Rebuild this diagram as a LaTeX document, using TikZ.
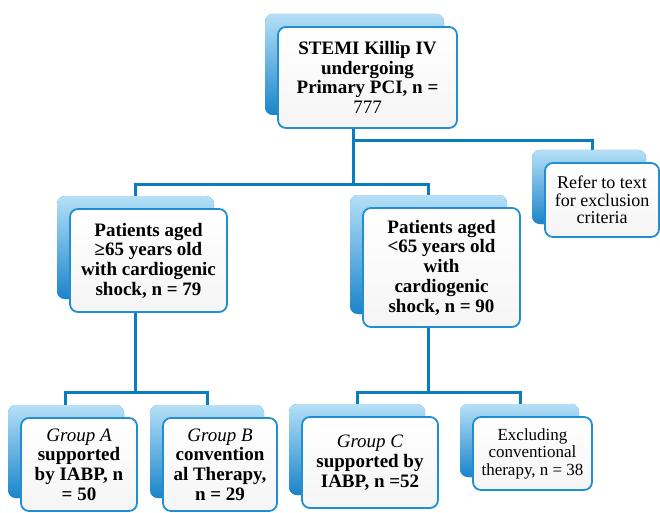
\documentclass[tikz,border=0pt]{standalone}
\usepackage{fontspec}
\setmainfont{Liberation Serif}
\usetikzlibrary{calc}
\usetikzlibrary{shadows,backgrounds}
\definecolor{backlight}{HTML}{B5E0F7}
\definecolor{backdark}{HTML}{1A84CA}
\definecolor{rim}{HTML}{1F8FD2}
\definecolor{wire}{HTML}{0B7DBE}

\begin{document}
\begin{tikzpicture}[x=1pt,y=-1pt,every node/.style={rectangle,rounded corners=8pt,draw=rim,line width=1.8pt,top color=white,bottom color=black!4,inner sep=0pt,align=center,font=\bfseries\fontsize{19}{19.7}\selectfont,general shadow={shadow xshift=-13pt,shadow yshift=13pt,fill=backdark,top color=backlight,bottom color=backdark}}]
\tikzstyle{link} = [draw=wire,line width=3pt]
\tikzstyle{plain} = [font=\fontsize{17}{17.5}\selectfont]
\useasboundingbox (0,0) rectangle (660,513);

\node[minimum width=179pt,minimum height=101pt] (stemi) at (367.5,77.5) {STEMI Killip IV\\undergoing\\Primary PCI, n =\\{\mdseries 777}};

\node[plain,font=\fontsize{18}{17.5}\selectfont,minimum width=114pt,minimum height=74pt] (refer) at (602,200) {Refer to text\\for exclusion\\criteria};

\node[minimum width=157pt,minimum height=103pt] (oldpat) at (148.5,260.5) {Patients aged\\≥65 years old\\with cardiogenic\\shock, n = 79};
\node[minimum width=157pt,minimum height=119pt] (youngpat) at (441.5,267.5) {Patients aged\\<65 years old\\with\\cardiogenic\\shock, n = 90};

\node[minimum width=116pt,minimum height=93pt] (grpA) at (79,464.5) {{\mdseries\itshape Group A}\\supported\\by IABP, n\\= 50};
\node[minimum width=114pt,minimum height=93pt] (grpB) at (220,464.5) {{\mdseries\itshape Group B}\\convention\\al Therapy,\\n = 29};
\node[minimum width=136pt,minimum height=91pt] (grpC) at (370,462.5) {{\mdseries\itshape Group C}\\supported by\\IABP, n =52};
\node[plain,minimum width=119pt,minimum height=73pt] (excl) at (532.5,453.5) {Excluding\\conventional\\therapy, n = 38};

\begin{scope}[on background layer]
\draw[link] ([xshift=-14pt]stemi.south) |- ([xshift=-13pt,yshift=24pt]oldpat.north) -- ([xshift=-13pt]oldpat.north);
\draw[link] ([xshift=-14pt]stemi.south) |- ([xshift=-13pt,yshift=23pt]youngpat.north) -- ([xshift=-13pt]youngpat.north);
\draw[link] ([xshift=-14pt,yshift=-12pt]stemi.south) -| ([xshift=-10pt]refer.north);

\draw[link] ([xshift=-13pt]oldpat.south) |- ([xshift=-14pt,yshift=25pt]grpA.north) -- ([xshift=-14pt]grpA.north);
\draw[link] ([xshift=-13pt]oldpat.south) |- ([xshift=-13pt,yshift=25pt]grpB.north) -- ([xshift=-13pt]grpB.north);
\draw[link] ([xshift=-13pt]youngpat.south) |- ([xshift=-13pt,yshift=24pt]grpC.north) -- ([xshift=-13pt]grpC.north);
\draw[link] ([xshift=-13pt]youngpat.south) |- ([xshift=-12.5pt,yshift=24pt]excl.north) -- ([xshift=-12.5pt]excl.north);
\end{scope}
\end{tikzpicture}
\end{document}
